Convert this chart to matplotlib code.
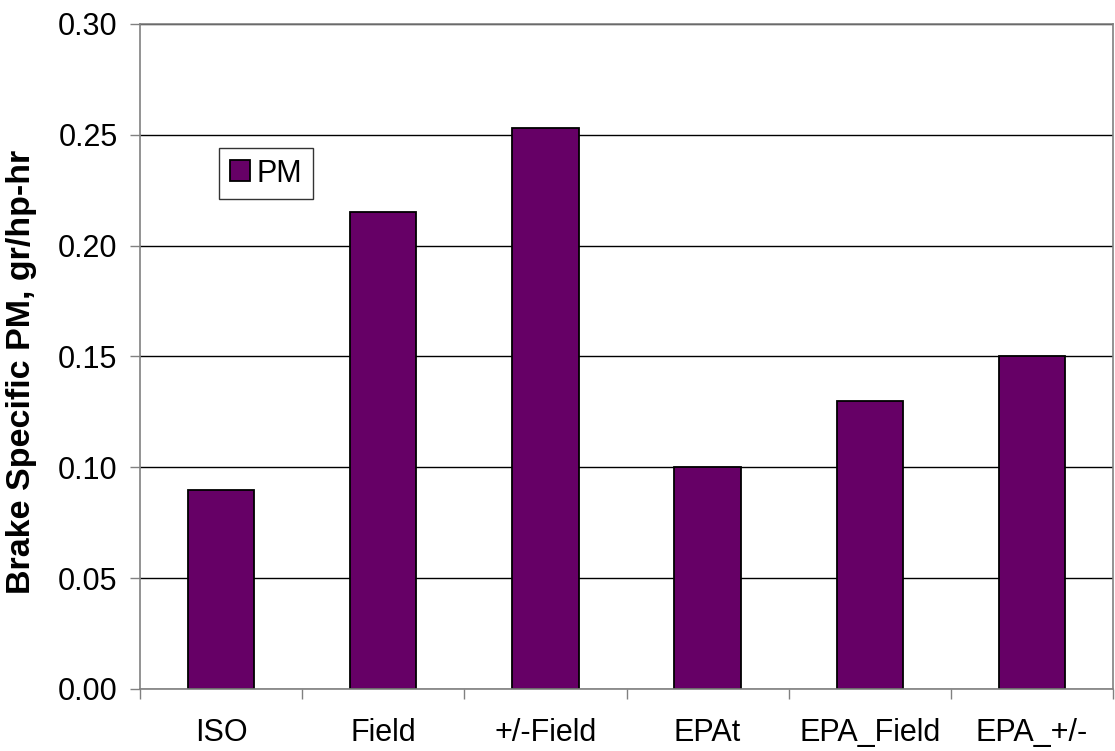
import matplotlib
matplotlib.use("Agg")
import matplotlib.pyplot as plt
import numpy as np

categories = ["ISO", "Field", "+/-Field", "EPAt", "EPA_Field", "EPA_+/-"]
pm_values = [0.090, 0.215, 0.253, 0.100, 0.130, 0.150]
y_ticks = [0.00, 0.05, 0.10, 0.15, 0.20, 0.25, 0.30]
series_name = "PM"
y_label = "Brake Specific PM, gr/hp-hr"

plt.rcParams['font.family'] = ['Liberation Sans', 'DejaVu Sans']

fig = plt.figure(figsize=(11.15, 7.51), dpi=100)
ax = fig.add_axes([140/1115, (751-689)/751, (1113-140)/1115, (689-24)/751])

x = np.arange(len(categories))
bars = ax.bar(x, pm_values, width=0.41, color="#660066", edgecolor="black",
              linewidth=1.3, label=series_name, zorder=3)

ax.set_xlim(-0.5, len(categories) - 0.5)
ax.set_ylim(0, 0.30)
ax.set_yticks(y_ticks)
ax.set_yticklabels([f"{v:.2f}" for v in y_ticks], fontsize=22)
ax.set_xticks(x)
ax.set_xticklabels(categories, fontsize=22)
ax.set_xticks(np.arange(-0.5, len(categories)), minor=True)

ax.tick_params(axis='x', which='major', length=0, pad=21)
ax.tick_params(axis='x', which='minor', length=7.2, width=1, color="#808080", direction='out')
ax.tick_params(axis='y', which='major', length=7.2, width=1, color="#808080", direction='out', pad=9)

ax.yaxis.grid(True, color="black", linewidth=1)
ax.set_axisbelow(True)
for s in ax.spines.values():
    s.set_color("#808080")
    s.set_linewidth(1.2)
    s.set_zorder(4)

ax.set_ylabel(y_label, fontsize=24.5, fontweight='bold')
ax.yaxis.set_label_coords(-0.106, 0.477)

leg = ax.legend(loc='upper left', bbox_to_anchor=((219-140)/973, (689-148)/665),
                borderaxespad=0, fontsize=22, frameon=True, fancybox=False,
                shadow=False, handlelength=0.68, handleheight=0.68,
                handletextpad=0.2, borderpad=0.35)
leg.get_frame().set_edgecolor("black")
leg.get_frame().set_linewidth(1.0)

fig.savefig("out.png", dpi=100)
